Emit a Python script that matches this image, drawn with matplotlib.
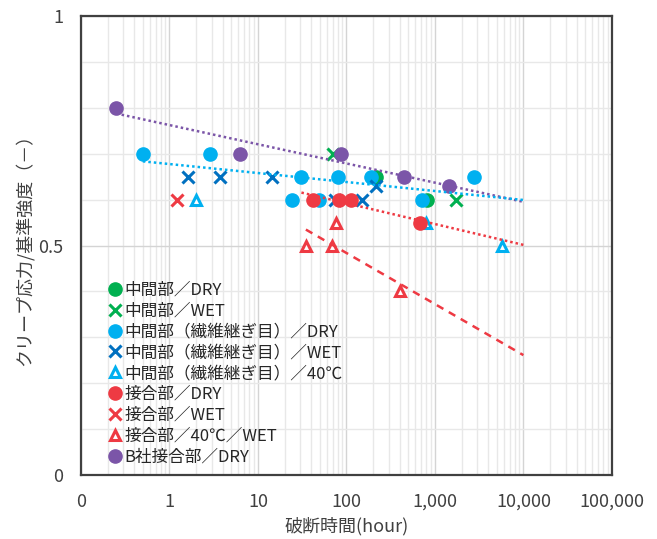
import numpy as np
import matplotlib
matplotlib.use("Agg")
import matplotlib.pyplot as plt
from matplotlib.ticker import FixedLocator, NullFormatter

plt.rcParams['font.family'] = ['Noto Sans CJK JP', 'DejaVu Sans']

# ---- data ----
mid_dry_x = [215, 813]
mid_dry_y = [0.65, 0.60]
mid_wet_x = [70, 1725]
mid_wet_y = [0.70, 0.60]
seam_dry_x = [0.5, 2.87, 30.6, 80, 189, 2760, 24.2, 48.9, 713]
seam_dry_y = [0.70, 0.70, 0.65, 0.65, 0.65, 0.65, 0.60, 0.60, 0.60]
seam_wet_x = [1.62, 3.72, 14.4, 74, 150, 215]
seam_wet_y = [0.65, 0.65, 0.65, 0.60, 0.60, 0.63]
seam_40_x = [1.99, 791, 5710]
seam_40_y = [0.60, 0.55, 0.50]
joint_dry_x = [41.8, 82, 112, 677]
joint_dry_y = [0.60, 0.60, 0.60, 0.55]
joint_wet_x = [1.22]
joint_wet_y = [0.60]
joint_40wet_x = [34.8, 68.6, 76, 403]
joint_40wet_y = [0.50, 0.50, 0.55, 0.40]
b_joint_x = [0.25, 6.27, 86.7, 447, 1439]
b_joint_y = [0.80, 0.70, 0.70, 0.65, 0.63]

labels = ["中間部／DRY", "中間部／WET", "中間部（繊維継ぎ目）／DRY",
          "中間部（繊維継ぎ目）／WET", "中間部（繊維継ぎ目）／40℃",
          "接合部／DRY", "接合部／WET", "接合部／40℃／WET", "B社接合部／DRY"]

xtick_vals = [0.1, 1, 10, 100, 1000, 10000, 100000]
xtick_labels = ["0", "1", "10", "100", "1,000", "10,000", "100,000"]
ytick_vals = [0, 0.5, 1]
ytick_labels = ["0", "0.5", "1"]

# trend line ranges (hours)
trend_purple_range = [0.25, 10000]
trend_cyan_range = [0.5, 10000]
trend_red_range = [31, 10000]
trend_reddash_range = [34.8, 10000]

GREEN = "#00B050"
CYAN = "#00B0F0"
BLUE = "#0070C0"
RED = "#EE3A43"
PURPLE = "#7B55A8"

fig = plt.figure(figsize=(6.57, 5.39), dpi=100)
ax = fig.add_axes([0.1233, 0.1187, 0.808, 0.8516])
ax.set_xscale('log')
ax.set_xlim(0.1, 100000)
ax.set_ylim(0, 1)

ms_c = 9.5
ms_x = 9
ms_t = 7.5

series = [
    (mid_dry_x, mid_dry_y, dict(marker='o', color=GREEN, ms=ms_c, mec=GREEN)),
    (mid_wet_x, mid_wet_y, dict(marker='x', color=GREEN, ms=ms_x, mew=2.2)),
    (seam_dry_x, seam_dry_y, dict(marker='o', color=CYAN, ms=ms_c, mec=CYAN)),
    (seam_wet_x, seam_wet_y, dict(marker='x', color=BLUE, ms=ms_x, mew=2.2)),
    (seam_40_x, seam_40_y, dict(marker='^', color=CYAN, ms=ms_t, mfc='white', mec=CYAN, mew=2.2)),
    (joint_dry_x, joint_dry_y, dict(marker='o', color=RED, ms=ms_c, mec=RED)),
    (joint_wet_x, joint_wet_y, dict(marker='x', color=RED, ms=ms_x, mew=2.2)),
    (joint_40wet_x, joint_40wet_y, dict(marker='^', color=RED, ms=ms_t, mfc='white', mec=RED, mew=2.2)),
    (b_joint_x, b_joint_y, dict(marker='o', color=PURPLE, ms=ms_c, mec=PURPLE)),
]
handles = []
for (xs, ys, kw), lab in zip(series, labels):
    h, = ax.plot(xs, ys, linestyle='none', label=lab, zorder=3, **kw)
    handles.append(h)


def trend(xs, ys, rng, color, ls):
    lx = np.log10(xs)
    k, b = np.polyfit(lx, ys, 1)
    xr = np.array(rng, dtype=float)
    ax.plot(xr, k * np.log10(xr) + b, color=color, lw=1.8, linestyle=ls, zorder=4)


trend(b_joint_x, b_joint_y, trend_purple_range, PURPLE, (0, (1, 1.2)))
trend(seam_dry_x, seam_dry_y, trend_cyan_range, CYAN, (0, (1, 1.2)))
trend(joint_dry_x, joint_dry_y, trend_red_range, RED, (0, (1, 1.2)))
trend(joint_40wet_x, joint_40wet_y, trend_reddash_range, RED, (0, (3, 2.5)))

# ticks & grid
ax.xaxis.set_major_locator(FixedLocator(xtick_vals))
ax.set_xticklabels(xtick_labels)
minor_x = [m * 10.0 ** e for e in range(-1, 5) for m in range(2, 10)]
ax.xaxis.set_minor_locator(FixedLocator(minor_x))
ax.xaxis.set_minor_formatter(NullFormatter())
ax.yaxis.set_major_locator(FixedLocator(ytick_vals))
ax.set_yticklabels(ytick_labels)
ax.yaxis.set_minor_locator(FixedLocator(np.arange(0.1, 1.0, 0.1)))
ax.grid(which='major', color='#D4D4D4', lw=1.0, zorder=0)
ax.grid(which='minor', color='#E8E8E8', lw=1.0, zorder=0)
ax.set_axisbelow(True)
ax.tick_params(which='both', length=0, labelsize=13, colors='#404040')
ax.tick_params(axis='x', pad=13)
ax.tick_params(axis='y', pad=13)
for s in ax.spines.values():
    s.set_color('#404040')
    s.set_linewidth(1.6)

ax.set_xlabel("破断時間(hour)", fontsize=13, color='#404040', labelpad=4)
ax.set_ylabel("クリープ応力/基準強度（－）", fontsize=13, color='#404040', labelpad=3)

leg = ax.legend(handles=handles, loc='lower left', bbox_to_anchor=(0.028, -0.01),
                frameon=False, fontsize=12, handlelength=0.6, handletextpad=0.25,
                labelspacing=0.23, borderpad=0.35)
for t in leg.get_texts():
    t.set_color('#262626')

fig.savefig("out.png", dpi=100)
